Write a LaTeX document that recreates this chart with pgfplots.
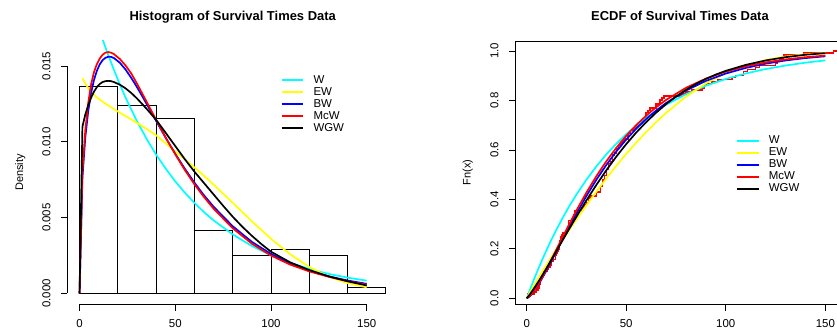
\documentclass[border=0pt]{standalone}
\usepackage{fontspec}
\setmainfont{Liberation Sans}
\usepackage{pgfplots}
\pgfplotsset{compat=1.18}
\definecolor{rcyan}{RGB}{0,255,255}
\definecolor{ryellow}{RGB}{255,255,0}
\definecolor{rblue}{RGB}{0,0,255}
\definecolor{rred}{RGB}{255,0,0}
\pgfplotsset{
  rpanel/.style={
    scale only axis, anchor=south west, height=263bp,
    tick align=outside, tick pos=left, major tick length=6.5bp,
    tick style={black, line width=0.8bp},
    scaled x ticks=false, scaled y ticks=false,
    /pgf/number format/assume math mode=true,
    xticklabel style={font=\fontsize{11.5}{13}\selectfont, anchor=north, inner sep=0pt, inner ysep=8.7bp},
    yticklabel style={font=\fontsize{11.5}{13}\selectfont, rotate=90, anchor=south, inner sep=0pt, inner ysep=10bp},
    title style={font=\bfseries\fontsize{13}{15}\selectfont, anchor=base},
    ylabel style={font=\fontsize{11}{13}\selectfont, anchor=center},
  },
  rlegend/.style={
    legend style={draw=none, fill=none, inner sep=0pt, outer sep=0pt,
      font=\fontsize{11.5}{13}\selectfont,
      nodes={inner sep=0.5bp, text height=8.3bp, text depth=2.3bp},
      row sep=0.4bp, column sep=8.9bp, anchor=north west},
    legend cell align=left,
    legend image code/.code={\draw[##1, line width=1.8bp] (0bp,0bp) -- (21.6bp,0bp);},
  },
  curve/.style={line width=1.7bp, line join=round, mark=none},
}
\begin{document}
\begin{tikzpicture}
\path[use as bounding box] (0,0) rectangle (837bp,331bp);
\clip (0,0) rectangle (837bp,331bp);
% ---------------- Histogram panel ----------------
\begin{axis}[rpanel,
  at={(67.3bp,27bp)}, width=330.8bp,
  xmin=-6.4, xmax=166.4, ymin=-0.0007, ymax=0.01665,
  axis lines*=left, axis line style={draw=none},
  clip mode=individual,
  xtick={0,50,100,150}, xticklabels={0,50,100,150},
  ytick={0,0.005,0.01,0.015}, yticklabels={0.000,0.005,0.010,0.015},
  title={Histogram of Survival Times Data},
  title style={at={(axis description cs:0.5,1.057)}},
  ylabel={Density},
  ylabel style={at={(axis description cs:-0.1424,0.5)}},
]
\draw[line width=0.8bp] (axis cs:0,-0.0007) -- (axis cs:150,-0.0007);
\draw[line width=0.8bp] (axis cs:-6.4,0) -- (axis cs:-6.4,0.015);
\addplot[ybar interval, draw=black, fill=none, line width=0.9bp, forget plot] coordinates {
 (0,0.013636) (20,0.012397) (40,0.011570) (60,0.004132) (80,0.002479)
 (100,0.002893) (120,0.002479) (140,0.000413) (160,0.000413)};
% W
\addplot[curve, color=rcyan, forget plot] coordinates {
 (0,0.0218) (1.5,0.02110) (3,0.02042) (4.5,0.01976) (6,0.01913) (7.5,0.01851) (9,0.01792)
 (10.5,0.01734) (12,0.01678) (13.5,0.01624) (15,0.01572) (18,0.01473) (21,0.01379)
 (25,0.01265) (30,0.01136) (35,0.01020) (40,0.00915) (45,0.00823) (50,0.00739)
 (55,0.00664) (60,0.00597) (65,0.00536) (70,0.00482) (80,0.00389) (90,0.00313)
 (100,0.00251) (110,0.00201) (120,0.00161) (130,0.00129) (140,0.00104) (150,0.00084)};
% EW
\addplot[curve, color=ryellow, forget plot] coordinates {
 (1.5,0.0142) (3,0.01385) (4.5,0.01355) (6,0.01330) (7.5,0.01310) (9,0.01293)
 (12,0.01265) (15,0.01240) (18,0.01215) (21,0.01192) (25,0.01163) (30,0.01125)
 (35,0.01085) (40,0.01043) (45,0.00990) (50,0.00937) (55,0.00885) (60,0.00831)
 (65,0.00775) (70,0.00718) (80,0.00598) (90,0.00476) (100,0.00360) (110,0.00258)
 (120,0.00174) (130,0.00110) (140,0.00068) (150,0.00040)};
% BW
\addplot[curve, color=rblue, forget plot] coordinates {
 (0,0) (1.5,0.00763) (3,0.01028) (4.5,0.01199) (6,0.01320) (7.5,0.01406) (9,0.01467)
 (10.5,0.01510) (12,0.01538) (13.5,0.01554) (15,0.01561) (16.5,0.01560) (18,0.01552)
 (21,0.01522) (24,0.01477) (27,0.01422) (30,0.01361) (35,0.01251) (40,0.01138)
 (45,0.01027) (50,0.00921) (55,0.00822) (60,0.00731) (65,0.00647) (70,0.00572)
 (80,0.00443) (90,0.00340) (100,0.00260) (110,0.00197) (120,0.00149) (130,0.00113)
 (140,0.00085) (150,0.00063)};
% McW
\addplot[curve, color=rred, forget plot] coordinates {
 (0,0) (1.5,0.00800) (3,0.01076) (4.5,0.01254) (6,0.01377) (7.5,0.01458) (9,0.01511)
 (10.5,0.01548) (12,0.01574) (13.5,0.01588) (15,0.01592) (16.5,0.01588) (18,0.01578)
 (21,0.01547) (24,0.01504) (27,0.01451) (30,0.01384) (35,0.01265) (40,0.01145)
 (45,0.01028) (50,0.00917) (55,0.00814) (60,0.00720) (65,0.00636) (70,0.00559)
 (80,0.00430) (90,0.00328) (100,0.00250) (110,0.00190) (120,0.00145) (130,0.00110)
 (140,0.00080) (150,0.00058)};
% WGW
\addplot[curve, color=black, forget plot] coordinates {
 (0,0) (1.5,0.0110) (3,0.0118) (4.5,0.0124) (6,0.0129) (7.5,0.0133) (9,0.01360)
 (10.5,0.01381) (12,0.01394) (13.5,0.01400) (15,0.01402) (16.5,0.01400) (18,0.01394)
 (21,0.01377) (24,0.01353) (27,0.01322) (30,0.01286) (35,0.01218) (40,0.01145)
 (45,0.01059) (50,0.00972) (55,0.00885) (60,0.00803) (65,0.00728) (70,0.00653)
 (75,0.00578) (80,0.00506) (85,0.00440) (90,0.00380) (95,0.00325) (100,0.00275)
 (110,0.00205) (120,0.00154) (130,0.00113) (140,0.00080) (150,0.00052)};
\end{axis}
% ---------------- ECDF panel ----------------
\begin{axis}[rpanel, rlegend,
  at={(515.3bp,27bp)}, width=329.4bp,
  xmin=-5.73, xmax=159.74, ymin=-0.023, ymax=1.0404,
  axis line style={line width=0.8bp},
  xtick={0,50,100,150}, xticklabels={0,50,100,150},
  ytick={0,0.2,0.4,0.6,0.8,1}, yticklabels={0.0,0.2,0.4,0.6,0.8,1.0},
  title={ECDF of Survival Times Data},
  title style={at={(axis description cs:0.5,1.057)}},
  ylabel={Fn(x)},
  ylabel style={at={(axis description cs:-0.1439,0.5)}},
  legend style={at={(axis description cs:0.670,0.6426)}},
]
\addplot[const plot, color=rred, line width=1.5bp, mark=none, forget plot] coordinates {
 (0,0) (0.3,0.0165) (4.0,0.0248) (5.0,0.0331) (5.6,0.0413) (6.2,0.0496) (6.3,0.0579)
 (6.6,0.0661) (6.8,0.0744) (7.4,0.0826) (7.5,0.0909) (8.4,0.1074) (10.3,0.1157)
 (11.0,0.1240) (11.8,0.1322) (12.2,0.1405) (12.3,0.1488) (13.5,0.1570) (14.4,0.1736)
 (14.8,0.1818) (15.5,0.1901) (15.7,0.1983) (16.2,0.2066) (16.3,0.2149) (16.5,0.2231)
 (16.8,0.2314) (17.2,0.2397) (17.3,0.2479) (17.5,0.2562) (17.9,0.2645) (19.8,0.2727)
 (20.4,0.2810) (20.9,0.2893) (21.0,0.3058) (21.1,0.3140) (23.0,0.3223) (23.4,0.3306)
 (23.6,0.3388) (24.0,0.3554) (27.9,0.3636) (28.2,0.3719) (29.1,0.3802) (30.0,0.3884)
 (31.0,0.4050) (32.0,0.4132) (35.0,0.4298) (37.0,0.4545) (38.0,0.4793) (39.0,0.4959)
 (40.0,0.5207) (41.0,0.5455) (42.0,0.5537) (43.0,0.5785) (44.0,0.5868) (45.0,0.6033)
 (46.0,0.6198) (47.0,0.6281) (48.0,0.6364) (49.0,0.6446) (51.0,0.6694) (52.0,0.6777)
 (54.0,0.6860) (55.0,0.6942) (56.0,0.7025) (57.0,0.7107) (58.0,0.7190) (59.0,0.7273)
 (60.0,0.7521) (61.0,0.7603) (62.0,0.7686) (65.0,0.7851) (67.0,0.8017) (68.0,0.8099)
 (69.0,0.8182) (78.0,0.8264) (80.0,0.8347) (83.0,0.8430) (88.0,0.8512) (89.0,0.8595)
 (90.0,0.8678) (93.0,0.8760) (96.0,0.8843) (103.0,0.8926) (105.0,0.9008) (109.0,0.9174)
 (111.0,0.9256) (115.0,0.9339) (117.0,0.9421) (125.0,0.9504) (126.0,0.9587) (127.0,0.9669)
 (129.0,0.9835) (139.0,0.9917) (154.0,1.0) (165.0,1.0)};
% W
\addplot[curve, color=rcyan] coordinates {
 (0,0) (1.5,0.0322) (3,0.0633) (4.5,0.0934) (6,0.1226) (7.5,0.1508) (9,0.1781)
 (12,0.2302) (15,0.2789) (18,0.3245) (21,0.3674) (25,0.4199) (30,0.4797) (35,0.5334)
 (40,0.5819) (45,0.6250) (50,0.6638) (55,0.6985) (60,0.7296) (65,0.7576) (70,0.7826)
 (80,0.8252) (90,0.8594) (100,0.8870) (110,0.9091) (120,0.9269) (130,0.9413)
 (140,0.9528) (150,0.9620)};
\addlegendentry{W}
% EW
\addplot[curve, color=ryellow] coordinates {
 (0,0) (1.5,0.0221) (3,0.0431) (4.5,0.0637) (6,0.0838) (7.5,0.1036) (9,0.1231)
 (12,0.1615) (15,0.1991) (18,0.2359) (21,0.2720) (25,0.3191) (30,0.3763) (35,0.4316)
 (40,0.4848) (45,0.5356) (50,0.5838) (55,0.6293) (60,0.6722) (65,0.7124) (70,0.7497)
 (80,0.8155) (90,0.8692) (100,0.9110) (110,0.9419) (120,0.9635) (130,0.9777)
 (140,0.9866) (150,0.9920)};
\addlegendentry{EW}
% BW
\addplot[curve, color=rblue] coordinates {
 (0,0) (1.5,0.0078) (3,0.0214) (4.5,0.0382) (6,0.0571) (7.5,0.0776) (9,0.0992)
 (12,0.1443) (15,0.1910) (18,0.2377) (21,0.2839) (25,0.3435) (30,0.4142) (35,0.4795)
 (40,0.5393) (45,0.5935) (50,0.6422) (55,0.6857) (60,0.7246) (65,0.7591) (70,0.7895)
 (80,0.8401) (90,0.8790) (100,0.9088) (110,0.9315) (120,0.9487) (130,0.9616)
 (140,0.9714) (150,0.9786)};
\addlegendentry{BW}
% McW
\addplot[curve, color=rred] coordinates {
 (0,0) (1.5,0.0082) (3,0.0224) (4.5,0.0400) (6,0.0598) (7.5,0.0811) (9,0.1036)
 (12,0.1505) (15,0.1988) (18,0.2470) (21,0.2945) (25,0.3556) (30,0.4276) (35,0.4938)
 (40,0.5541) (45,0.6084) (50,0.6570) (55,0.7002) (60,0.7385) (65,0.7724) (70,0.8021)
 (80,0.8511) (90,0.8884) (100,0.9167) (110,0.9380) (120,0.9540) (130,0.9659)
 (140,0.9748) (150,0.9814)};
\addlegendentry{McW}
% WGW
\addplot[curve, color=black] coordinates {
 (0,0) (1.5,0.0150) (3,0.0321) (4.5,0.0503) (6,0.0692) (7.5,0.0888) (9,0.1090)
 (10.5,0.1296) (12,0.1504) (13.5,0.1713) (15,0.1923) (16.5,0.2134) (18,0.2343)
 (21,0.2759) (24,0.3168) (27,0.3570) (30,0.3961) (35,0.4587) (40,0.5178) (45,0.5729)
 (50,0.6236) (55,0.6701) (60,0.7123) (65,0.7505) (70,0.7851) (75,0.8158) (80,0.8429)
 (85,0.8666) (90,0.8871) (95,0.9047) (100,0.9197) (110,0.9437) (120,0.9617)
 (130,0.9750) (140,0.9847) (150,0.9913)};
\addlegendentry{WGW}
\end{axis}
% ---------------- legend of the histogram panel (separate, hidden axis, drawn last) ----------------
\begin{axis}[rlegend,
  at={(67.3bp,27bp)}, anchor=south west, scale only axis, width=330.8bp, height=263bp,
  xmin=0, xmax=1, ymin=0, ymax=1, hide axis,
  legend style={at={(axis description cs:0.6451,0.8735)}},
]
\addlegendimage{color=rcyan}\addlegendentry{W}
\addlegendimage{color=ryellow}\addlegendentry{EW}
\addlegendimage{color=rblue}\addlegendentry{BW}
\addlegendimage{color=rred}\addlegendentry{McW}
\addlegendimage{color=black}\addlegendentry{WGW}
\end{axis}
\end{tikzpicture}
\end{document}
